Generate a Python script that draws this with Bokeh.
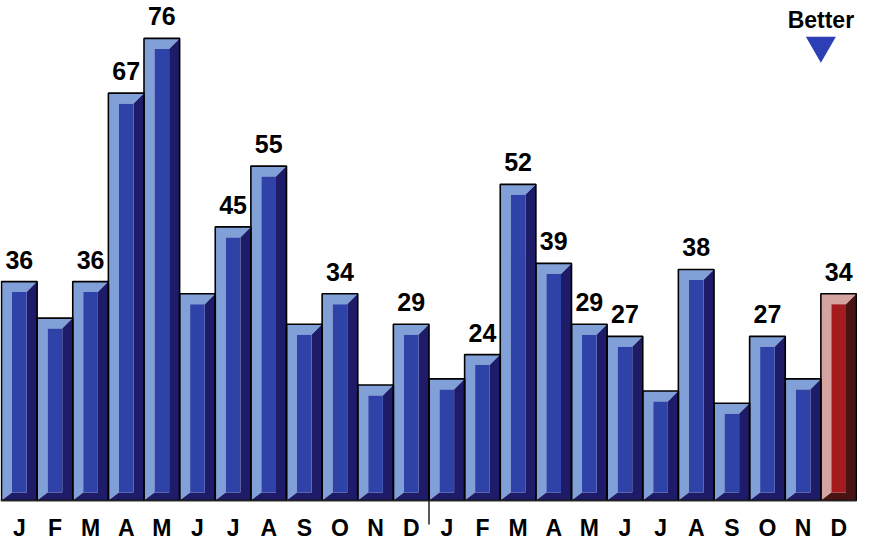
from bokeh.plotting import figure
from bokeh.models import Range1d, ColumnDataSource, Label
from bokeh.core.properties import value
from bokeh.embed import file_html
from bokeh.resources import INLINE

# ---- data ----
months = ["J", "F", "M", "A", "M", "J", "J", "A", "S", "O", "N", "D",
          "J", "F", "M", "A", "M", "J", "J", "A", "S", "O", "N", "D"]
values = [36, 30, 36, 67, 76, 34, 45, 55, 29, 34, 19, 29,
          20, 24, 52, 39, 29, 27, 18, 38, 16, 27, 20, 34]
shown = [True, False, True, True, True, False, True, True, False, True, False, True,
         False, True, True, True, True, True, False, True, False, True, False, True]
highlight_index = 23  # latest month shown in red

# ---- style ----
W, H = 857, 540
PX_X = 35.625          # pixels per bar
PX_Y = 6.08            # pixels per unit
BASE_FROM_TOP = 500    # baseline, pixels from top of plot
FONT = "Liberation Sans"

blue = dict(light="#82a0d8", mid="#2f42a8", dark="#1e1c68")
red = dict(light="#d6a3a3", mid="#a31b1d", dark="#4b1414")

x_start = 0.5 - 1.0 / PX_X
x_end = x_start + W / PX_X
y_end = BASE_FROM_TOP / PX_Y
y_start = -(H - BASE_FROM_TOP) / PX_Y

p = figure(width=W, height=H, output_backend="svg", toolbar_location=None,
           x_range=Range1d(x_start, x_end), y_range=Range1d(y_start, y_end),
           min_border=0, background_fill_color="white", border_fill_color="white")
p.axis.visible = False
p.grid.visible = False
p.outline_line_color = None

bh = 10.5 / PX_X
bt = 10.5 / PX_Y
bb = 8.0 / PX_Y

xs = list(range(1, len(values) + 1))
light_xs, light_ys, dark_xs, dark_ys = [], [], [], []
light_c, mid_c, dark_c = [], [], []
for i, (x, v) in enumerate(zip(xs, values)):
    x0, x1, y0, y1 = x - 0.5, x + 0.5, 0.0, v
    light_xs.append([x0, x0, x1, x1 - bh, x0 + bh, x0 + bh])
    light_ys.append([y0, y1, y1, y1 - bt, y1 - bt, y0 + bb])
    dark_xs.append([x1, x1, x0, x0 + bh, x1 - bh, x1 - bh])
    dark_ys.append([y1, y0, y0, y0 + bb, y0 + bb, y1 - bt])
    c = red if i == highlight_index else blue
    light_c.append(c["light"]); mid_c.append(c["mid"]); dark_c.append(c["dark"])

p.patches(light_xs, light_ys, fill_color=light_c, line_color=None)
p.patches(dark_xs, dark_ys, fill_color=dark_c, line_color=None)
src = ColumnDataSource(dict(
    left=[x - 0.5 + bh for x in xs], right=[x + 0.5 - bh for x in xs],
    top=[v - bt for v in values], bottom=[bb] * len(values), c=mid_c))
p.quad(left="left", right="right", top="top", bottom="bottom", source=src,
       fill_color="c", line_color=None)
# outlines
p.quad(left=[x - 0.5 for x in xs], right=[x + 0.5 for x in xs], top=values,
       bottom=[0] * len(values), fill_alpha=0, line_color="black", line_width=1.6)

# baseline and year divider
p.segment(x0=[x_start], y0=[0], x1=[len(values) + 0.5], y1=[0], line_color="#222222", line_width=1.5)
p.segment(x0=[12.5], y0=[0], x1=[12.5], y1=[-24 / PX_Y], line_color="#222222", line_width=1.5)

# value labels
lx = [x for x, s in zip(xs, shown) if s]
ly = [v + 22 / PX_Y for v, s in zip(values, shown) if s]
lt = [str(v) for v, s in zip(values, shown) if s]
p.text(x=lx, y=ly, text=lt, text_align="center", text_baseline="middle",
       text_font=value(FONT), text_font_style="bold", text_font_size="25px", text_color="black")

# month labels
p.text(x=xs, y=[-27 / PX_Y] * len(xs), text=months, text_align="center",
       text_baseline="middle", text_font=value(FONT), text_font_style="bold",
       text_font_size="23px", text_color="black")

# "Better" indicator
p.add_layout(Label(x=23.5, y=(BASE_FROM_TOP - 19) / PX_Y, text="Better", text_align="center",
                   text_baseline="middle", text_font=FONT, text_font_style="bold",
                   text_font_size="23px", text_color="black"))
p.scatter(x=[23.5], y=[(BASE_FROM_TOP - 45) / PX_Y], marker="inverted_triangle", size=30,
          fill_color="#2c3fb5", line_color=None)

open("out.html", "w").write(file_html(p, INLINE))
